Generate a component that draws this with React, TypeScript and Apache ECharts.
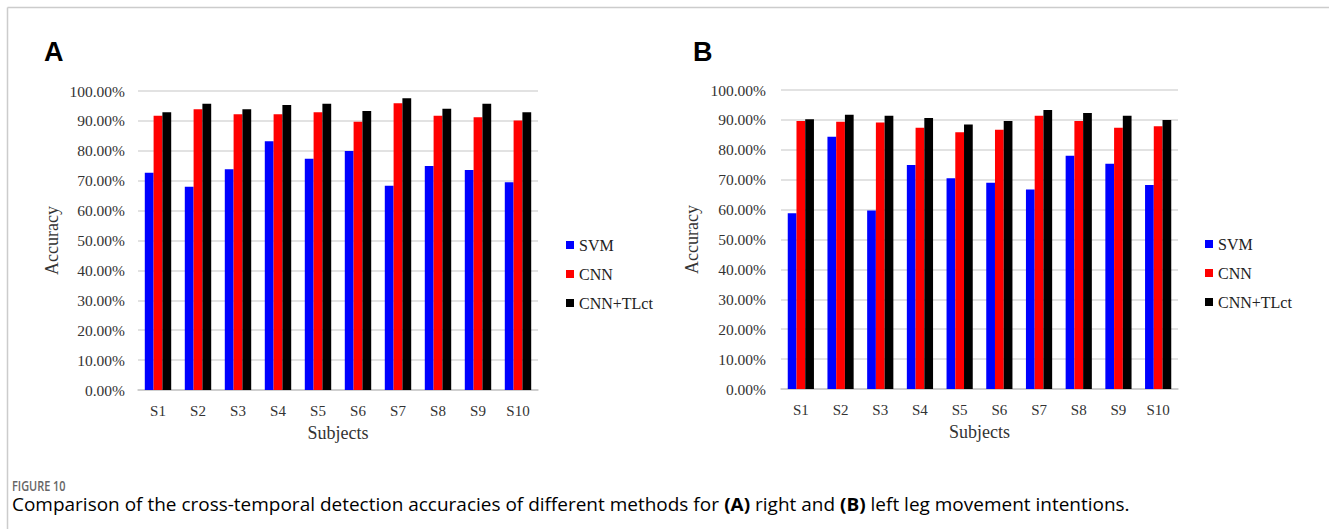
import React, { useEffect, useRef } from "react";
import * as echarts from "echarts";

const categories = ["S1", "S2", "S3", "S4", "S5", "S6", "S7", "S8", "S9", "S10"];
const seriesNames = ["SVM", "CNN", "CNN+TLct"];
const seriesColors = ["#0000ff", "#ff0000", "#000000"];

// Panel A: right leg
const svmA = [72.7, 68.0, 73.8, 83.2, 77.3, 79.9, 68.3, 74.9, 73.6, 69.5];
const cnnA = [91.7, 93.9, 92.2, 92.2, 92.9, 89.7, 95.9, 91.7, 91.2, 90.1];
const tlA = [92.9, 95.7, 93.9, 95.3, 95.7, 93.3, 97.6, 94.1, 95.7, 92.9];

// Panel B: left leg
const svmB = [58.8, 84.4, 59.7, 74.9, 70.5, 69.0, 66.7, 78.0, 75.3, 68.2];
const cnnB = [89.6, 89.4, 89.1, 87.4, 85.9, 86.7, 91.4, 89.6, 87.4, 87.9];
const tlB = [90.2, 91.7, 91.4, 90.6, 88.5, 89.6, 93.3, 92.3, 91.4, 90.0];

const yMin = 0;
const yMax = 100;
const yStep = 10;

const xAxisTitle = "Subjects";
const yAxisTitle = "Accuracy";
const panelLetters = ["A", "B"];
const figureLabel = "FIGURE 10";

const SERIF = "Liberation Serif, Times New Roman, serif";
const SANS = "Open Sans, Noto Sans, sans-serif";

export default function App() {
  const ref = useRef<HTMLDivElement>(null);

  useEffect(() => {
    document.body.style.margin = "0";
    if (!ref.current) return;
    const chart = echarts.init(ref.current, undefined, { renderer: "svg" });

    const makeX = (gridIndex: number, gap: number) => ({
      type: "category",
      gridIndex,
      data: categories,
      axisTick: { show: false },
      axisLine: { lineStyle: { color: "#c8c8c8", width: 1.5 } },
      axisLabel: { color: "#333", fontFamily: SERIF, fontSize: 15, margin: 13 },
      name: xAxisTitle,
      nameLocation: "middle",
      nameGap: gap,
      nameTextStyle: { color: "#333", fontFamily: SERIF, fontSize: 18 },
    });
    const makeY = (gridIndex: number, gap: number, margin: number) => ({
      type: "value",
      gridIndex,
      min: yMin,
      max: yMax,
      interval: yStep,
      axisLine: { show: false },
      axisTick: { show: false },
      splitLine: { lineStyle: { color: "#d9d9d9", width: 1.5 } },
      axisLabel: {
        color: "#333",
        fontFamily: SERIF,
        fontSize: 15.5,
        margin,
        formatter: (v: number) => v.toFixed(2) + "%",
      },
      name: yAxisTitle,
      nameLocation: "middle",
      nameGap: gap,
      nameTextStyle: { color: "#333", fontFamily: SERIF, fontSize: 18 },
    });

    const dataA = [svmA, cnnA, tlA];
    const dataB = [svmB, cnnB, tlB];
    const series: any[] = [];
    [dataA, dataB].forEach((set, gi) => {
      set.forEach((vals, si) => {
        series.push({
          type: "bar",
          name: seriesNames[si],
          xAxisIndex: gi,
          yAxisIndex: gi,
          data: vals,
          barGap: "0%",
          barCategoryGap: "34%",
          itemStyle: { color: seriesColors[si] },
        });
      });
    });

    const legendCommon = {
      orient: "vertical",
      data: seriesNames,
      icon: "rect",
      itemWidth: 8,
      itemHeight: 8,
      itemGap: 13,
      selectedMode: false,
      textStyle: { color: "#222", fontFamily: SERIF, fontSize: 16 },
    };

    const caption =
      "{n|Comparison of the cross-temporal detection accuracies of different methods for }{b|(A)}{n| right and }{b|(B)}{n| left leg movement intentions.}";

    chart.setOption({
      animation: false,
      backgroundColor: "#ffffff",
      textStyle: { fontFamily: SERIF },
      grid: [
        { left: 138, top: 91, width: 400, height: 299 },
        { left: 781, top: 90, width: 397, height: 299 },
      ],
      xAxis: [makeX(0, 34), makeX(1, 34)],
      yAxis: [makeY(0, 77, 13), makeY(1, 80, 15)],
      legend: [
        { ...legendCommon, left: 561, top: 232 },
        { ...legendCommon, left: 1200, top: 231 },
      ],
      series,
      graphic: [
        { type: "line", shape: { x1: 7.5, y1: 7.5, x2: 1329, y2: 7.5 }, style: { stroke: "#cccccc", lineWidth: 1.5 } },
        { type: "line", shape: { x1: 7.5, y1: 7.5, x2: 7.5, y2: 529 }, style: { stroke: "#cccccc", lineWidth: 1.5 } },
        {
          type: "text",
          left: 44,
          top: 38,
          style: { text: panelLetters[0], font: "bold 27px Liberation Sans, Arial, sans-serif", fill: "#000" },
        },
        {
          type: "text",
          left: 693,
          top: 38,
          style: { text: panelLetters[1], font: "bold 27px Liberation Sans, Arial, sans-serif", fill: "#000" },
        },
        {
          type: "text",
          x: 12,
          y: 479,
          scaleX: 0.78,
          style: { text: figureLabel, font: "600 14px " + SANS, fill: "#666" },
        },
        {
          type: "text",
          x: 12,
          y: 495,
          scaleX: 1.085,
          style: {
            text: caption,
            rich: {
              n: { fontFamily: SANS, fontSize: 17.5, color: "#808080" },
              b: { fontFamily: SANS, fontSize: 17.5, fontWeight: "bold", color: "#5a5a5a" },
            },
          },
        },
      ],
    });

    return () => chart.dispose();
  }, []);

  return <div ref={ref} style={{ width: 1329, height: 529 }} />;
}
